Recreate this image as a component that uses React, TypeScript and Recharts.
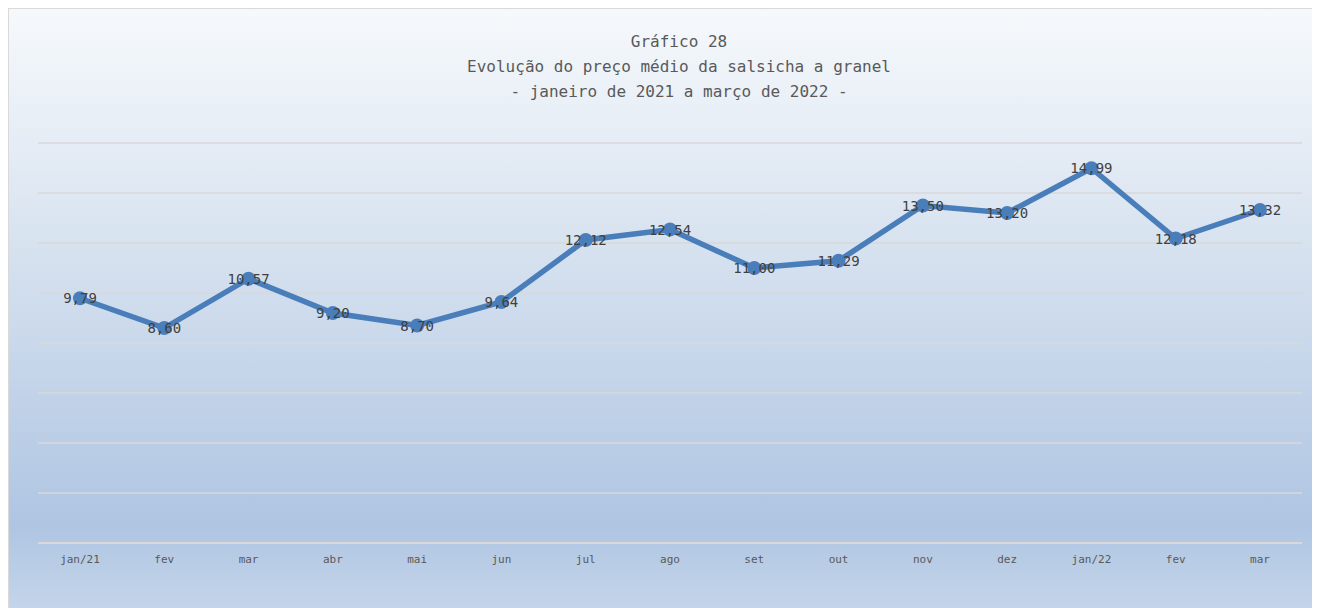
import React from "react";
import { LineChart, Line, XAxis, YAxis, CartesianGrid, LabelList } from "recharts";

const months = ["jan/21", "fev", "mar", "abr", "mai", "jun", "jul", "ago", "set", "out", "nov", "dez", "jan/22", "fev", "mar"];
const prices = [9.79, 8.6, 10.57, 9.2, 8.7, 9.64, 12.12, 12.54, 11.0, 11.29, 13.5, 13.2, 14.99, 12.18, 13.32];
const yTicks = [0, 2, 4, 6, 8, 10, 12, 14, 16];
const titleLines = ["Gráfico 28", "Evolução do preço médio da salsicha a granel", "- janeiro de 2021 a março de 2022 -"];

const data = months.map((m, i) => ({ month: m, key: i, price: prices[i] }));

const FONT = "'DejaVu Sans Mono', 'Liberation Mono', monospace";

const renderLabel = (props: any) => {
  const { x, y, value } = props;
  return (
    <text x={x} y={y} textAnchor="middle" dominantBaseline="central" fontFamily={FONT} fontSize={14} fill="#404040">
      {Number(value).toFixed(2).replace(".", ",")}
    </text>
  );
};

const renderTick = (props: any) => {
  const { x, y, payload } = props;
  return (
    <text x={x} y={y + 8} textAnchor="middle" dominantBaseline="central" fontFamily={FONT} fontSize={11} fill="#595959">
      {months[payload.value]}
    </text>
  );
};

export default function App() {
  return (
    <div
      style={{
        position: "relative",
        width: 1303,
        height: 600,
        border: "1px solid #d9d9d9",
        background: "linear-gradient(to bottom, #f6f9fc 0%, #dbe5f1 35%, #afc5e2 86%, #c4d5ea 100%)",
        fontFamily: FONT,
      }}
    >
      <div style={{ position: "absolute", left: 0, width: 1340, top: 20, textAlign: "center", color: "#595959", fontSize: 16, lineHeight: "25px" }}>
        {titleLines.map((t, i) => (
          <div key={i}>{t}</div>
        ))}
      </div>
      <LineChart width={1303} height={600} data={data} margin={{ top: 134, right: 10, bottom: 36, left: 29 }}>
        <CartesianGrid vertical={false} stroke="#d9d9d9" strokeWidth={1.5} />
        <XAxis
          dataKey="key"
          type="category"
          padding={{ left: 42, right: 42 }}
          axisLine={{ stroke: "#d9d9d9", strokeWidth: 2 }}
          tickLine={false}
          tick={renderTick}
          height={30}
          interval={0}
        />
        <YAxis hide domain={[0, 16]} ticks={yTicks} width={0} />
        <Line
          type="linear"
          dataKey="price"
          stroke="#4a7ebb"
          strokeWidth={5.5}
          dot={{ r: 7, fill: "#4a7ebb", stroke: "#4a7ebb", strokeWidth: 0 }}
          isAnimationActive={false}
        >
          <LabelList dataKey="price" content={renderLabel} />
        </Line>
      </LineChart>
    </div>
  );
}
